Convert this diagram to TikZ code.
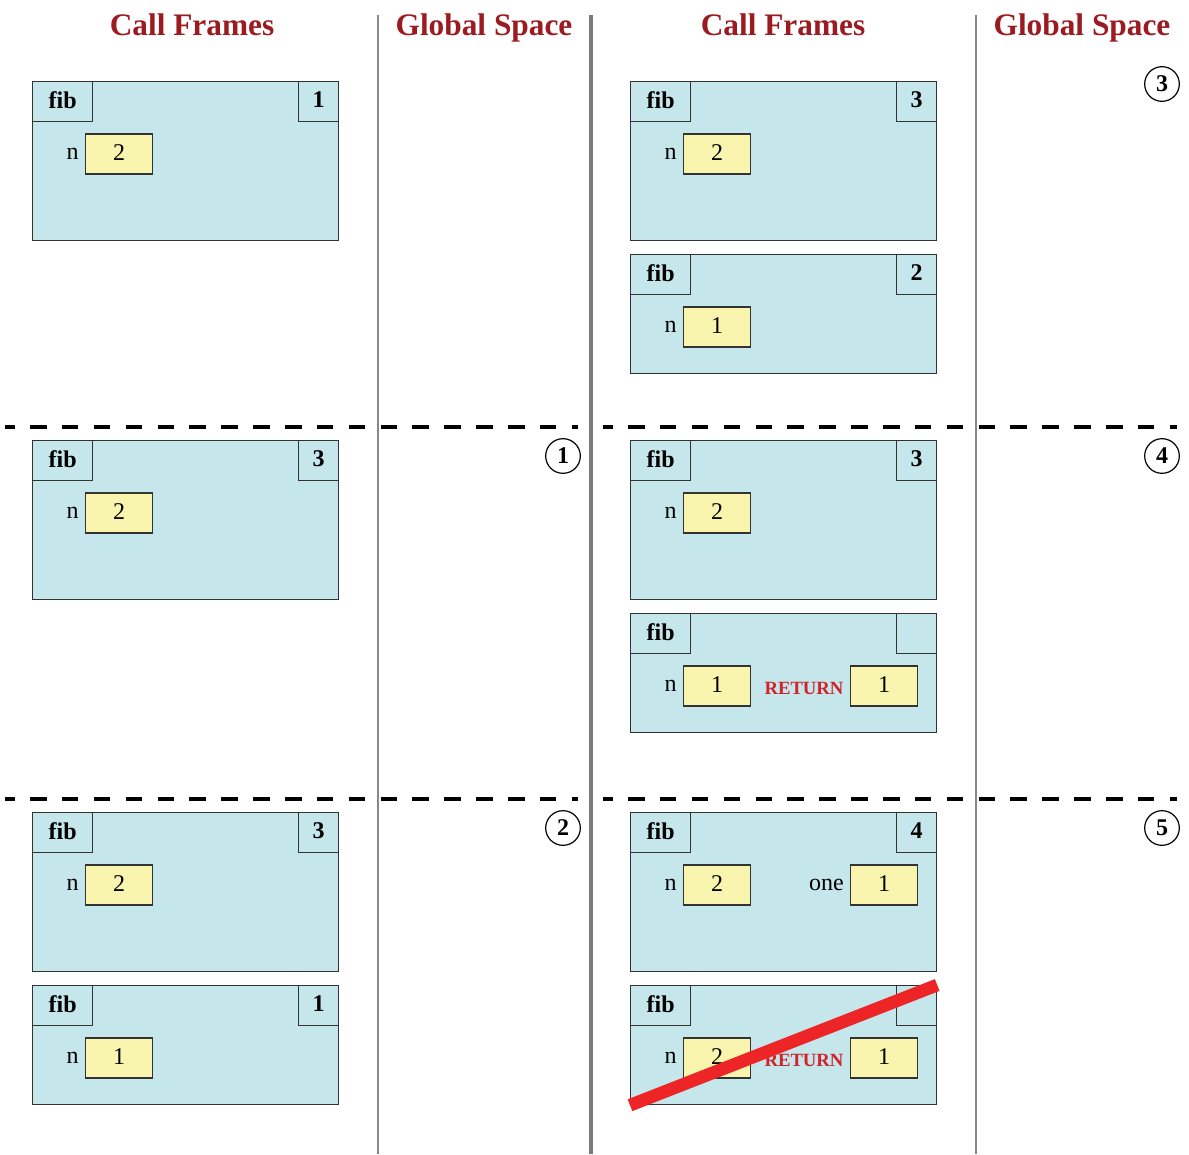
\documentclass[tikz,border=0pt]{standalone}
\usepackage{fontspec}
\setmainfont{Liberation Serif}
\usetikzlibrary{calc}
\definecolor{titlered}{HTML}{9B1B20}
\definecolor{framefill}{HTML}{C5E6EB}
\definecolor{valfill}{HTML}{F9F5AF}
\definecolor{retred}{HTML}{D0232B}
\definecolor{slashred}{HTML}{EE2526}
\definecolor{divgray}{HTML}{888888}
\definecolor{edge}{HTML}{333333}

\newcommand\fibframe[5]{% name, x, y, height(px), number
  \node[frame, minimum height=#4*0.75pt, anchor=north west] (#1) at (#2,#3) {};
  \node[fibbox, anchor=north west] (#1-fib) at (#1.north west) {fib};
  \node[numbox, anchor=north east] (#1-num) at (#1.north east) {#5};
}
\newcommand\fibvar[5]{% name, frame, xoff(px), label, value
  \node[lab, anchor=east] (#1-lab) at ($(#2.north west)+(#3-6,73)$) {#4};
  \node[val, anchor=west] (#1) at ($(#2.north west)+(#3,73)$) {#5};
}

\begin{document}
\begin{tikzpicture}[x=0.75pt,y=-0.75pt,
  title/.style={text=titlered,font=\fontsize{23.5}{28}\selectfont\bfseries,inner sep=0pt,anchor=base},
  frame/.style={draw=edge,fill=framefill,line width=0.9pt,minimum width=229.5pt,inner sep=0pt},
  hdr/.style={draw=edge,fill=framefill,line width=0.9pt,minimum height=30pt,inner sep=0pt,text depth=3pt,font=\fontsize{18}{21}\selectfont\bfseries},
  fibbox/.style={hdr,minimum width=45pt},
  numbox/.style={hdr,minimum width=30pt},
  val/.style={draw=edge,fill=valfill,line width=0.9pt,minimum width=50.25pt,minimum height=30pt,inner sep=0pt,text depth=1.5pt,font=\fontsize{18}{21}\selectfont},
  lab/.style={inner sep=0pt,font=\fontsize{18}{21}\selectfont},
  ret/.style={inner sep=0pt,text=retred,font=\fontsize{14}{16}\selectfont\bfseries},
  circ/.style={draw,circle,line width=0.9pt,minimum size=26pt,inner sep=0pt,font=\fontsize{18}{21}\selectfont\bfseries},
  divider/.style={draw=divgray,line width=1pt},
  sep/.style={line width=2.5pt,dash pattern=on 12.4pt off 11.5pt,dash phase=5.1pt},
  slash/.style={draw=slashred,line width=9.5pt},
]
\useasboundingbox (0,0) rectangle (1189,1154);

% titles
\node[title] (t1) at (192,35) {Call Frames};
\node[title] (t2) at (484,35) {Global Space};
\node[title] (t3) at (783,35) {Call Frames};
\node[title] (t4) at (1082,35) {Global Space};

% dividers
\coordinate (d1t) at (378,15); \coordinate (d1b) at (378,1154);
\coordinate (d2t) at (591,15); \coordinate (d2b) at (591,1154);
\coordinate (d3t) at (976,15); \coordinate (d3b) at (976,1154);
\draw[divider] (d1t) -- (d1b);
\draw[divider,line width=3pt,draw=divgray!90!black] (d2t) -- (d2b);
\draw[divider] (d3t) -- (d3b);

% dashed separators
\coordinate (s1a) at (5,427);  \coordinate (s1b) at (578,427);
\coordinate (s1c) at (603,427); \coordinate (s1d) at (1177,427);
\coordinate (s2a) at (5,799);  \coordinate (s2b) at (578,799);
\coordinate (s2c) at (603,799); \coordinate (s2d) at (1177,799);
\draw[sep] (s1a) -- (s1b);
\draw[sep] (s1c) -- (s1d);
\draw[sep] (s2a) -- (s2b);
\draw[sep] (s2c) -- (s2d);

% left column
\fibframe{L1}{32}{81}{159}{1}
\fibvar{L1n}{L1}{53}{n}{2}
\fibframe{L2}{32}{440}{159}{3}
\fibvar{L2n}{L2}{53}{n}{2}
\fibframe{L3a}{32}{812}{159}{3}
\fibvar{L3an}{L3a}{53}{n}{2}
\fibframe{L3b}{32}{985}{119}{1}
\fibvar{L3bn}{L3b}{53}{n}{1}

% right column
\fibframe{R1a}{630}{81}{159}{3}
\fibvar{R1an}{R1a}{53}{n}{2}
\fibframe{R1b}{630}{254}{119}{2}
\fibvar{R1bn}{R1b}{53}{n}{1}

\fibframe{R2a}{630}{440}{159}{3}
\fibvar{R2an}{R2a}{53}{n}{2}
\fibframe{R2b}{630}{613}{119}{}
\fibvar{R2bn}{R2b}{53}{n}{1}
\node[ret] (R2bret) at ($(R2b.north west)+(174,75)$) {RETURN};
\node[val, anchor=west] (R2bv) at ($(R2b.north west)+(220,73)$) {1};

\fibframe{R3a}{630}{812}{159}{4}
\fibvar{R3an}{R3a}{53}{n}{2}
\fibvar{R3aone}{R3a}{220}{one}{1}
\fibframe{R3b}{630}{985}{119}{}
\fibvar{R3bn}{R3b}{53}{n}{2}
\node[ret] (R3bret) at ($(R3b.north west)+(174,75)$) {RETURN};
\node[val, anchor=west] (R3bv) at ($(R3b.north west)+(220,73)$) {1};
\draw[slash] (R3b.south west) -- (R3b.north east);

% step markers
\node[circ] (c1) at (563,456) {1};
\node[circ] (c2) at (563,828) {2};
\node[circ] (c3) at (1162,84) {3};
\node[circ] (c4) at (1162,456) {4};
\node[circ] (c5) at (1162,828) {5};
\end{tikzpicture}
\end{document}
